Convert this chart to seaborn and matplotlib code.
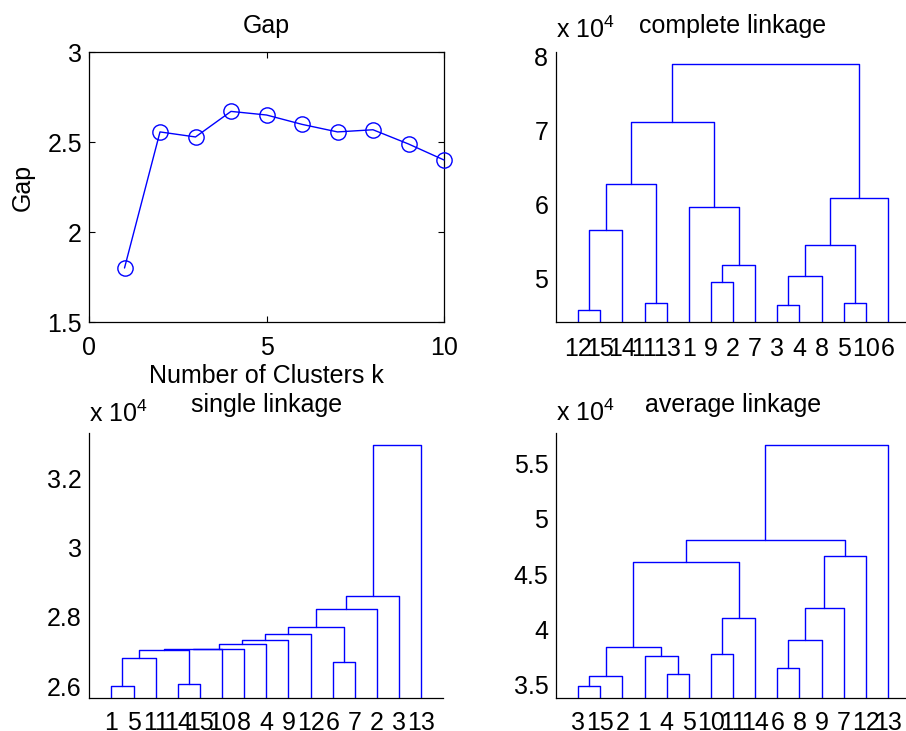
import pandas as pd
import seaborn as sns
import matplotlib.pyplot as plt
from matplotlib.ticker import FuncFormatter

# gap statistic
gap_k = [1, 2, 3, 4, 5, 6, 7, 8, 9, 10]
gap_vals = [1.80, 2.556, 2.528, 2.67, 2.65, 2.598, 2.556, 2.568, 2.489, 2.40]

# dendrograms: leaf order + merges (left, right, height); "mN" = N-th merge
complete_leaves = [12, 15, 14, 11, 13, 1, 9, 2, 7, 3, 4, 8, 5, 10, 6]
complete_links = [
    (12, 15, 45720), ("m0", 14, 56490), (11, 13, 46710), ("m1", "m2", 62750),
    (9, 2, 49500), ("m4", 7, 51800), (1, "m5", 59730), ("m3", "m6", 71170),
    (3, 4, 46350), ("m8", 8, 50270), (5, 10, 46710), ("m9", "m10", 54500),
    ("m11", 6, 60860), ("m7", "m12", 79010),
]

single_leaves = [1, 5, 11, 14, 15, 10, 8, 4, 9, 12, 6, 7, 2, 3, 13]
single_links = [
    (1, 5, 26000), ("m0", 11, 26830), (14, 15, 26075), ("m1", "m2", 27060),
    ("m3", 10, 27075), ("m4", 8, 27085), ("m5", 4, 27234), ("m6", 9, 27327),
    ("m7", 12, 27523), (6, 7, 26700), ("m8", "m9", 27700), ("m10", 2, 28230),
    ("m11", 3, 28596), ("m12", 13, 32950),
]

average_leaves = [3, 15, 2, 1, 4, 5, 10, 11, 14, 6, 8, 9, 7, 12, 13]
average_links = [
    (3, 15, 34880), ("m0", 2, 35810), (4, 5, 36020), (1, "m2", 37620),
    ("m1", "m3", 38460), (10, 11, 37830), ("m5", 14, 41020), ("m4", "m6", 46110),
    (6, 8, 36540), ("m8", 9, 39040), ("m9", 7, 41930), ("m10", 12, 46630),
    ("m7", "m11", 48040), ("m12", 13, 56660),
]

sns.set_style("white")
plt.rcParams["font.family"] = "Liberation Sans"
plt.rcParams["mathtext.fontset"] = "custom"
plt.rcParams["mathtext.rm"] = "Liberation Sans"
plt.rcParams["font.size"] = 18
plt.rcParams["text.color"] = "black"
plt.rcParams["axes.labelcolor"] = "black"
plt.rcParams["xtick.color"] = "black"
plt.rcParams["ytick.color"] = "black"
plt.rcParams["axes.edgecolor"] = "black"
plt.rcParams["axes.linewidth"] = 0.9

BLUE = "#0000ff"
W, H = 906, 731


def link_segments(leaves, links):
    pos = {leaf: i + 1 for i, leaf in enumerate(leaves)}
    height = {leaf: 0.0 for leaf in leaves}
    rows = []
    for n, (a, b, h) in enumerate(links):
        xa, xb = pos[a], pos[b]
        for x, y in [(xa, height[a]), (xa, h), (xb, h), (xb, height[b])]:
            rows.append({"link": n, "x": x, "y": y})
        pos[f"m{n}"] = (xa + xb) / 2
        height[f"m{n}"] = h
    return pd.DataFrame(rows)


def box(left, top, right, bottom):
    return [left / W, 1 - bottom / H, (right - left) / W, (bottom - top) / H]


fig = plt.figure(figsize=(9.06, 7.31), dpi=100)

# --- gap plot
ax = fig.add_axes(box(89, 52, 444, 322))
sns.lineplot(x=gap_k, y=gap_vals, ax=ax, color=BLUE, lw=1, marker="o",
             markersize=11, markerfacecolor="none", markeredgecolor=BLUE,
             markeredgewidth=1, clip_on=False, zorder=5)
ax.set_xlim(0, 10)
ax.set_ylim(1.5, 3)
ax.set_xticks([0, 5, 10])
ax.set_yticks([1.5, 2, 2.5, 3])
ax.yaxis.set_major_formatter(FuncFormatter(lambda v, _: f"{v:g}"))
ax.tick_params(direction="in", length=4, width=0.8, top=True, right=True,
               bottom=True, left=True, labelsize=18)
ax.tick_params(axis="x", pad=10)
ax.tick_params(axis="y", pad=5)
ax.set_title("Gap", fontsize=18, pad=14)
ax.text(-0.186, 0.5, "Gap", rotation=90, ha="center", va="center",
        transform=ax.transAxes, fontsize=18)
ax.text(0.5, -0.225, "Number of Clusters k", ha="center", va="baseline",
        transform=ax.transAxes, fontsize=18)
ax.set(xlabel="", ylabel="")


def dendro(rect, leaves, links, ylim, yticks, title, title_pad, exp_y, xpad):
    ax = fig.add_axes(rect)
    df = link_segments(leaves, links)
    sns.lineplot(data=df, x="x", y="y", units="link", estimator=None,
                 sort=False, color=BLUE, lw=1, ax=ax)
    ax.set_xlim(0, 16)
    ax.set_ylim(*ylim)
    ax.set_xticks(range(1, 16))
    ax.set_xticklabels([str(v) for v in leaves])
    ax.set_yticks(yticks)
    ax.yaxis.set_major_formatter(FuncFormatter(lambda v, _: f"{v / 1e4:g}"))
    sns.despine(ax=ax)
    ax.tick_params(axis="x", length=0, pad=xpad, labelsize=18)
    ax.tick_params(axis="y", direction="in", length=4, width=0.8, pad=5.5,
                   labelsize=18)
    ax.set(xlabel="", ylabel="")
    ax.set_title(title, fontsize=18, pad=title_pad)
    ax.text(0, exp_y, r"x 10$^{4}$", ha="left", va="baseline",
            transform=ax.transAxes, fontsize=18)
    return ax


dendro(box(556, 52.3, 910, 322), complete_leaves, complete_links,
       (44100, 80600), [50000, 60000, 70000, 80000], "complete linkage", 14, 1.052, 10.5)
dendro(box(89.3, 433.3, 443.3, 698.3), single_leaves, single_links,
       (25654, 33300), [26000, 28000, 30000, 32000], "single linkage", 15.5, 1.044, 9.5)
dendro(box(556, 433.3, 910, 698.3), average_leaves, average_links,
       (33800, 57680), [35000, 40000, 45000, 50000, 55000], "average linkage", 15.5, 1.046, 9.5)

fig.savefig("out.png", dpi=100, facecolor="white")
